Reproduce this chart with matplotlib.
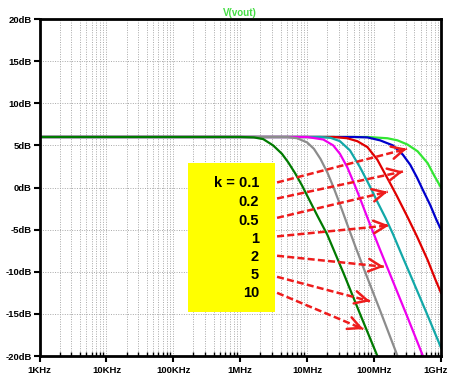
import numpy as np
import matplotlib.pyplot as plt
import matplotlib.transforms as mtransforms
from matplotlib.ticker import FixedLocator, LogLocator, NullFormatter

plt.rcParams['font.family'] = ['Liberation Sans', 'DejaVu Sans']

# ---- curve data (freq in MHz, gain in dB) ----
f_k01 = [0.001, 79.4, 158, 224, 316, 447, 631, 794, 1000]
db_k01 = [6.0, 6.0, 5.85, 5.6, 5.1, 4.3, 2.9, 1.4, 0.0]

f_k02 = [0.001, 50.1, 79.4, 123, 191, 269, 347, 437, 537, 692, 851, 1000]
db_k02 = [6.0, 6.0, 5.95, 5.6, 5.0, 3.9, 2.7, 1.2, -0.3, -2.1, -3.8, -5.0]

f_k05 = [0.001, 25.1, 39.8, 56.2, 79.4, 112, 135, 174, 219, 316, 437, 631, 832, 1000]
db_k05 = [6.0, 6.0, 5.85, 5.5, 4.8, 3.3, 2.1, 0.5, -1.0, -3.5, -5.8, -8.6, -11.0, -12.5]

f_k1 = [0.001, 15.8, 22.4, 30.9, 43.7, 61.7, 87.1, 112, 148, 191, 269, 372, 617, 1000]
db_k1 = [6.0, 6.0, 5.9, 5.5, 4.4, 2.4, 0.1, -1.7, -3.6, -5.5, -8.3, -10.9, -15.0, -19.0]

f_k2 = [0.001, 10.0, 17.4, 24.5, 30.9, 39.8, 50.1, 61.7, 87.1, 123, 186, 316, 537, 631]
db_k2 = [6.0, 6.0, 5.7, 5.0, 4.0, 2.4, 0.5, -1.3, -4.4, -7.4, -10.9, -15.4, -20.0, -21.4]

f_k5 = [0.001, 5.0, 7.1, 10.0, 12.6, 15.8, 20.0, 25.1, 31.6, 39.8, 52.5, 69.2, 123, 219, 251]
db_k5 = [6.0, 6.0, 5.85, 5.35, 4.6, 3.4, 1.8, -0.1, -2.2, -4.4, -7.0, -9.5, -14.6, -19.8, -21.0]

f_k10 = [0.001, 1.0, 1.6, 2.2, 3.1, 4.2, 5.2, 6.6, 8.3, 10.2, 14.1, 20.0, 35.5, 63.1, 112, 130]
db_k10 = [6.0, 6.0, 5.95, 5.75, 5.0, 4.0, 3.0, 1.7, 0.3, -1.1, -3.3, -5.6, -10.3, -15.2, -20.0, -21.3]

curves = [
    (f_k01, db_k01, '#33e633'),
    (f_k02, db_k02, '#0000cc'),
    (f_k05, db_k05, '#e00000'),
    (f_k1, db_k1, '#12a8a8'),
    (f_k2, db_k2, '#ee00ee'),
    (f_k5, db_k5, '#8c8c8c'),
    (f_k10, db_k10, '#007a00'),
]

# ---- legend box text and arrows ----
k_labels = ['k = 0.1', '0.2', '0.5', '1', '2', '5', '10']
label_db = [0.48, -1.67, -3.93, -6.07, -8.21, -10.36, -12.5]
label_f = 1.91  # MHz, right edge of labels

arrow_tail_f = 3.55  # MHz
arrow_tail_db = [0.6, -1.3, -3.6, -5.8, -8.1, -10.6, -12.5]
arrow_head_f = [310, 270, 160, 167, 140, 87, 69]  # MHz
arrow_head_db = [4.6, 1.9, -0.5, -4.5, -9.4, -13.5, -16.8]

box_f = [0.166, 3.3]   # MHz
box_db = [-14.8, 2.86]

fig = plt.figure(figsize=(4.5, 3.81), dpi=100)
ax = fig.add_axes([0.0878, 0.0656, 0.8922, 0.8844])

for f, db, c in curves:
    ax.plot(np.array(f) * 1e6, db, color=c, linewidth=1.6, zorder=4,
            solid_joinstyle='round')

ax.set_xscale('log')
ax.set_xlim(1e3, 1e9)
ax.set_ylim(-20, 20)

# yellow box
ax.fill_between(np.array(box_f) * 1e6, box_db[0], box_db[1],
                color='#ffff00', zorder=3, linewidth=0)
for txt, y in zip(k_labels, label_db):
    ax.text(label_f * 1e6, y, txt, ha='right', va='center',
            fontsize=10.5, fontweight='bold', zorder=6)

# dashed arrows
for y0, fh, yh in zip(arrow_tail_db, arrow_head_f, arrow_head_db):
    x0 = arrow_tail_f * 1e6
    x1 = fh * 1e6
    ax.plot([x0, x1], [y0, yh], color='#ee1c1c', linewidth=1.8,
            dashes=(2.8, 1.3), zorder=5)
    # solid open head
    lx0, lx1 = np.log10(x0), np.log10(x1)
    xb = 10 ** (lx1 - 0.03 * (lx1 - lx0))
    yb = yh - 0.03 * (yh - y0)
    ax.annotate('', xy=(x1, yh), xytext=(xb, yb),
                arrowprops=dict(arrowstyle='->,head_length=0.9,head_width=0.45',
                                color='#ee1c1c', lw=1.8,
                                shrinkA=0, shrinkB=0), zorder=5)

# ticks / grid
ax.yaxis.set_major_locator(FixedLocator(np.arange(-20, 21, 5)))
ax.set_yticklabels([f'{v}dB' for v in range(-20, 21, 5)])
ax.xaxis.set_major_locator(FixedLocator([1e3, 1e4, 1e5, 1e6, 1e7, 1e8, 1e9]))
ax.set_xticklabels(['1KHz', '10KHz', '100KHz', '1MHz', '10MHz', '100MHz', '1GHz'])
ax.xaxis.set_minor_locator(LogLocator(base=10, subs=np.arange(2, 10), numticks=20))
ax.xaxis.set_minor_formatter(NullFormatter())

ax.tick_params(axis='both', which='major', direction='out', length=4,
               width=1.5, labelsize=6.8, pad=1.5)
ax.tick_params(axis='x', which='minor', direction='in', length=3, width=1)
ax.tick_params(axis='x', which='major', pad=3)
for lab in ax.get_xticklabels() + ax.get_yticklabels():
    lab.set_fontweight('bold')

# keep last x label inside the figure
last = ax.get_xticklabels()[-1]
last.set_transform(last.get_transform() +
                   mtransforms.ScaledTranslation(-4 / 72, 0, fig.dpi_scale_trans))

ax.grid(True, which='both', axis='x', color='#a8a8a8', linestyle=(0, (1, 1.5)),
        linewidth=0.7, zorder=1)
ax.grid(True, which='major', axis='y', color='#a8a8a8', linestyle=(0, (1, 1.5)),
        linewidth=0.7, zorder=1)
ax.set_axisbelow(True)

for s in ax.spines.values():
    s.set_linewidth(2)
    s.set_zorder(7)

ax.set_title('V(vout)', color='#44dd44', fontsize=7, fontweight='bold', pad=2)

fig.savefig('out.png', dpi=100)
